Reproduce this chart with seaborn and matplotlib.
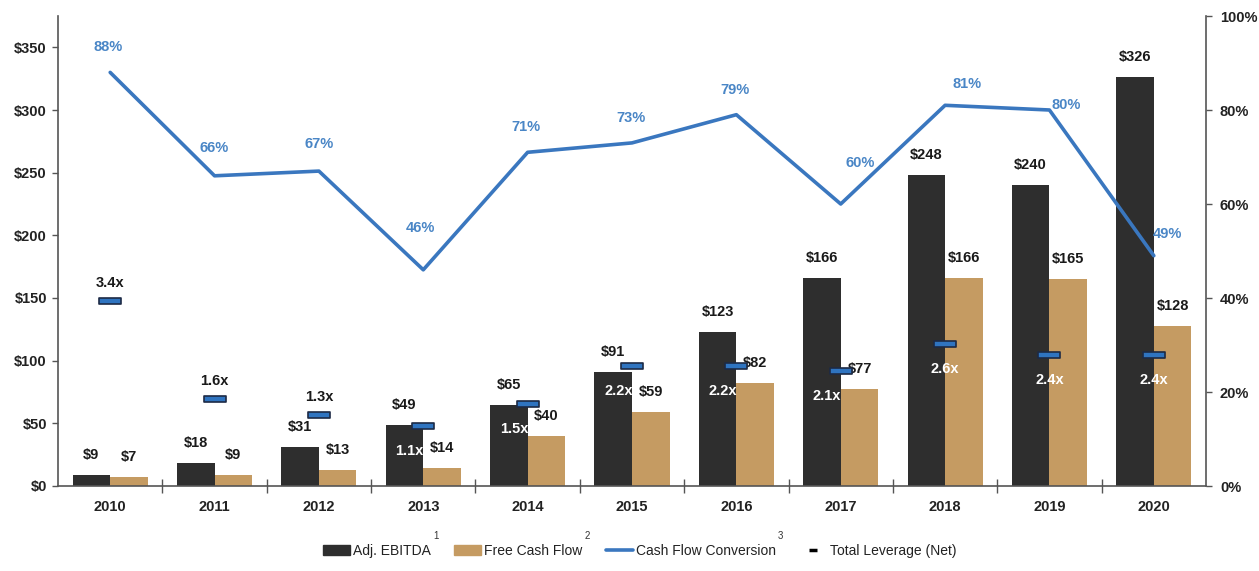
import numpy as np
import pandas as pd
import matplotlib
matplotlib.use("Agg")
import matplotlib.pyplot as plt
import seaborn as sns
from matplotlib.patches import Patch
from matplotlib.lines import Line2D
from matplotlib.path import Path

# ---------------- data ----------------
years = ["2010", "2011", "2012", "2013", "2014", "2015", "2016", "2017", "2018", "2019", "2020"]
ebitda = [9, 18, 31, 49, 65, 91, 123, 166, 248, 240, 326]
fcf = [7, 9, 13, 14, 40, 59, 82, 77, 166, 165, 128]
conversion = [0.88, 0.66, 0.67, 0.46, 0.71, 0.73, 0.79, 0.60, 0.81, 0.80, 0.49]
leverage = [3.4, 1.6, 1.3, 1.1, 1.5, 2.2, 2.2, 2.1, 2.6, 2.4, 2.4]
left_ticks = [0, 50, 100, 150, 200, 250, 300, 350]
right_ticks = [0, 0.2, 0.4, 0.6, 0.8, 1.0]
series_names = ["Adj. EBITDA", "Free Cash Flow", "Cash Flow Conversion", "Total Leverage (Net)"]

# ---------------- style ----------------
sns.set_theme(style="white")
FONT = ["Liberation Sans", "DejaVu Sans"]
plt.rcParams["font.family"] = FONT
DARK = "#2e2e2e"
TAN = "#c59b62"
BLUE = "#3a77bf"
PCT = "#4a86c6"
PX = 72 / 100.0  # points per pixel at dpi 100

df = pd.DataFrame({
    "year": years * 2,
    "value": ebitda + fcf,
    "series": [series_names[0]] * len(years) + [series_names[1]] * len(years),
})

fig = plt.figure(figsize=(12.59, 5.71), dpi=100)
ax = fig.add_axes([58 / 1259, 1 - 486 / 571, (1206 - 58) / 1259, (486 - 16) / 571])

sns.barplot(data=df, x="year", y="value", hue="series", palette=[DARK, TAN],
            width=0.72, gap=0, ax=ax, legend=False, saturation=1, linewidth=0)
ax.set_xlim(-0.5, len(years) - 0.5)
ax.set_ylim(0, 375)
ax.set_yticks(left_ticks)
ax.set_yticklabels([f"${v}" for v in left_ticks])
ax.set_xlabel("")
ax.set_ylabel("")
for s in ["top", "right"]:
    ax.spines[s].set_visible(False)
for s in ["left", "bottom"]:
    ax.spines[s].set_color("#555555")
    ax.spines[s].set_linewidth(1.2)
ax.tick_params(axis="y", length=4, width=1, color="#555555", pad=4,
               labelsize=10.5, direction="out", left=True)
ax.tick_params(axis="x", which="major", length=0, pad=10, labelsize=10.5)
ax.set_xticks(np.arange(0.5, len(years) - 1, 1.0), minor=True)
ax.tick_params(axis="x", which="minor", length=10, width=1, color="#555555",
               direction="inout", bottom=True)
for lab in ax.get_xticklabels() + ax.get_yticklabels():
    lab.set_fontweight("bold")
    lab.set_color("#222222")

# bar value labels
xs = np.arange(len(years))
bw = 0.36
for i in range(len(years)):
    ax.annotate(f"${ebitda[i]}", (xs[i] - bw / 2, ebitda[i]), xytext=(0, 20 * PX),
                textcoords="offset points", ha="center", va="center",
                fontsize=10.5, fontweight="bold", color="#1a1a1a")
    ax.annotate(f"${fcf[i]}", (xs[i] + bw / 2, fcf[i]), xytext=(0, 20 * PX),
                textcoords="offset points", ha="center", va="center",
                fontsize=10.5, fontweight="bold", color="#1a1a1a", zorder=6)

# conversion line on right axis
ax2 = ax.twinx()
sns.lineplot(x=xs, y=conversion, color=BLUE, linewidth=2.6, ax=ax2)
ax2.set_ylim(0, 1.0)
ax2.set_yticks(right_ticks)
ax2.set_yticklabels([f"{int(round(v * 100))}%" for v in right_ticks])
for s in ["top", "left", "bottom"]:
    ax2.spines[s].set_visible(False)
ax2.spines["right"].set_color("#555555")
ax2.spines["right"].set_linewidth(1.2)
ax2.tick_params(axis="y", length=4, width=1, color="#555555", pad=6,
                labelsize=10.5, right=True, direction="out")
for lab in ax2.get_yticklabels():
    lab.set_fontweight("bold")
    lab.set_color("#222222")
ax2.grid(False)

pct_offsets = [(-2, 25), (0, 28), (0, 27), (-3, 42), (-2, 25), (-1, 25),
               (-1, 25), (19, 41), (22, 21), (17, 5), (14, 22)]
for i, v in enumerate(conversion):
    dx, dy = pct_offsets[i]
    ax2.annotate(f"{int(round(v * 100))}%", (xs[i], v), xytext=(dx * PX, dy * PX),
                 textcoords="offset points", ha="center", va="center",
                 fontsize=10.5, fontweight="bold", color=PCT)

# leverage markers on hidden third axis
ax3 = ax.twinx()
ax3.set_ylim(0, 8.62)
ax3.axis("off")
rect = Path([(-1, -0.22), (1, -0.22), (1, 0.22), (-1, 0.22), (-1, -0.22)],
            [Path.MOVETO, Path.LINETO, Path.LINETO, Path.LINETO, Path.CLOSEPOLY])
sns.scatterplot(x=xs, y=leverage, marker=rect, s=270, color="#2f74c0",
                edgecolor="#1c2a45", linewidth=1.2, ax=ax3, zorder=5, legend=False)
ax3.set_xlim(-0.5, len(years) - 0.5)
for i, v in enumerate(leverage):
    if i < 3:
        ax3.annotate(f"{v:.1f}x", (xs[i], v), xytext=(0, 18 * PX),
                     textcoords="offset points", ha="center", va="center",
                     fontsize=10.5, fontweight="bold", color="#1a1a1a")
    else:
        dxp = -0.13 if i < 8 else 0.0
        ax3.annotate(f"{v:.1f}x", (xs[i] + dxp, v), xytext=(0, -25 * PX),
                     textcoords="offset points", ha="center", va="center",
                     fontsize=10.5, fontweight="bold", color="white")

# legend
handles = [
    Patch(facecolor=DARK, edgecolor=DARK),
    Patch(facecolor=TAN, edgecolor=TAN),
    Line2D([0], [0], color=BLUE, linewidth=2.6),
    Line2D([0], [0], color="black", marker="_", markersize=6, markeredgewidth=2.5, linestyle="none"),
]
leg = fig.legend(handles, series_names, loc="center", bbox_to_anchor=(0.508, 0.035),
                 ncol=4, frameon=False, fontsize=10, handlelength=1.9, handleheight=0.75,
                 handletextpad=0.25, columnspacing=1.7)
for t in leg.get_texts():
    t.set_color("#222222")

fig.canvas.draw()
renderer = fig.canvas.get_renderer()
inv = fig.transFigure.inverted()
for t, sup in zip(leg.get_texts()[:3], ["1", "2", "3"]):
    bb = t.get_window_extent(renderer)
    x0, y0 = inv.transform((bb.x1 + 2, bb.y1 + 3))
    fig.text(x0, y0, sup, fontsize=7, color="#333333", ha="left", va="bottom")

fig.savefig("out.png", dpi=100)
